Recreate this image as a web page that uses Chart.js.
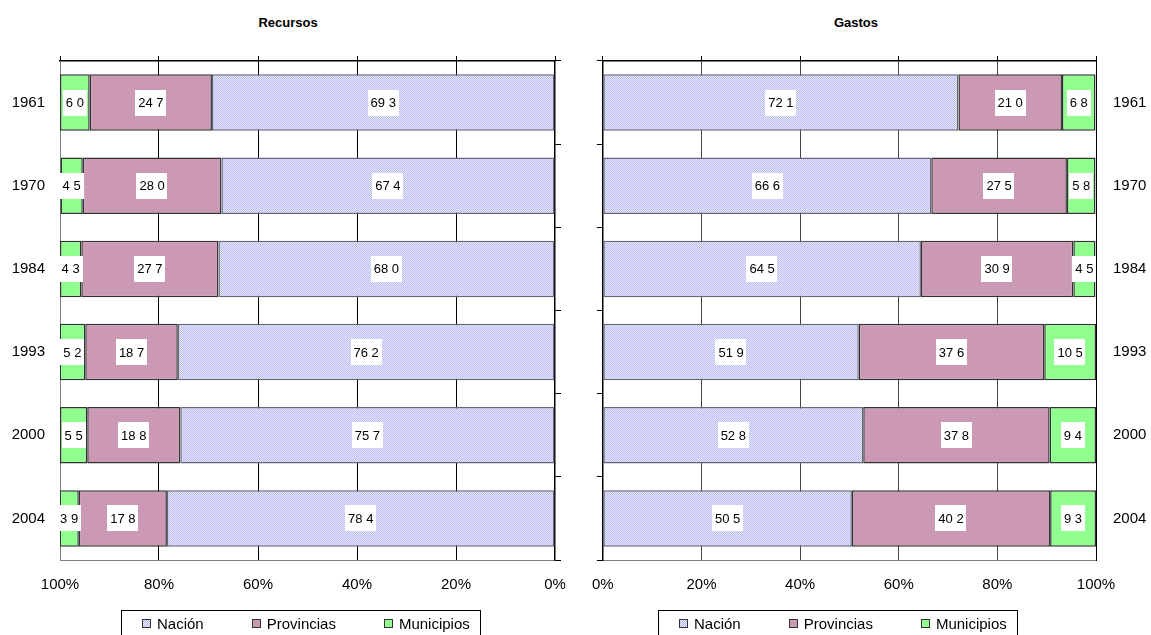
<!DOCTYPE html>
<html lang="es">
<head>
<meta charset="UTF-8">
<title>Recursos y Gastos por nivel de gobierno</title>
<script src="https://cdn.jsdelivr.net/npm/chart.js@4.4.0/dist/chart.umd.min.js"></script>
<style>
  body { margin: 0; background: #fff; width: 1151px; height: 635px; position: relative; overflow: hidden; font-family: Arial, "Liberation Sans", sans-serif; }
  canvas { position: absolute; top: 0; }
  #recursosChart { left: 0; }
  #gastosChart { left: 576px; }
  .titulo { position: absolute; top: 15px; width: 200px; text-align: center; font-weight: bold; font-size: 13px; }
  .leyenda { position: absolute; top: 610px; height: 26px; box-sizing: border-box; border: 1px solid #000; display: flex; align-items: center; font-size: 15px; padding-left: 20px; }
  .leyenda span.item { display: flex; align-items: center; margin-right: 48px; }
  .leyenda span.item:last-child { margin-right: 10px; }
  .leyenda i { width: 9px; height: 9px; box-sizing: border-box; border: 1px solid #333; margin-right: 6px; display: inline-block; }
  .c-nacion { background: repeating-conic-gradient(#bcbcf4 0 25%, #e8e8fc 0 50%) 0 0 / 2px 2px; }
  .c-prov { background: #cc99b4; }
  .c-muni { background: #90ff90; }
</style>
</head>
<body>
<div class="titulo" style="left:188px">Recursos</div>
<div class="titulo" style="left:756px">Gastos</div>
<canvas id="recursosChart" width="576" height="635"></canvas>
<canvas id="gastosChart" width="575" height="635"></canvas>
<div class="leyenda" style="left:121px">
  <span class="item"><i class="c-nacion"></i>Nación</span>
  <span class="item"><i class="c-prov"></i>Provincias</span>
  <span class="item"><i class="c-muni"></i>Municipios</span>
</div>
<div class="leyenda" style="left:658px">
  <span class="item"><i class="c-nacion"></i>Nación</span>
  <span class="item"><i class="c-prov"></i>Provincias</span>
  <span class="item"><i class="c-muni"></i>Municipios</span>
</div>
<script>
// Años y participación (%) de cada nivel de gobierno
const anios = ['1961', '1970', '1984', '1993', '2000', '2004'];
const recursosNacion = [69.3, 67.4, 68.0, 76.2, 75.7, 78.4];
const recursosProvincias = [24.7, 28.0, 27.7, 18.7, 18.8, 17.8];
const recursosMunicipios = [6.0, 4.5, 4.3, 5.2, 5.5, 3.9];
const gastosNacion = [72.1, 66.6, 64.5, 51.9, 52.8, 50.5];
const gastosProvincias = [21.0, 27.5, 30.9, 37.6, 37.8, 40.2];
const gastosMunicipios = [6.8, 5.8, 4.5, 10.5, 9.4, 9.3];
const marcasPct = [0, 20, 40, 60, 80, 100];

Chart.defaults.font.family = 'Arial, "Liberation Sans", sans-serif';
Chart.defaults.color = '#000';

// trama punteada azul para Nación
function tramaNacion() {
    const c = document.createElement('canvas');
    c.width = 2; c.height = 2;
    const g = c.getContext('2d');
    g.fillStyle = '#e8e8fc';
    g.fillRect(0, 0, 2, 2);
    g.fillStyle = '#bcbcf4';
    g.fillRect(0, 0, 1, 1);
    g.fillRect(1, 1, 1, 1);
    return g.createPattern(c, 'repeat');
}

// etiquetas con fondo blanco en el centro de cada segmento
const etiquetas = {
    id: 'etiquetas',
    afterDatasetsDraw(chart) {
        const ctx = chart.ctx;
        ctx.save();
        ctx.font = '13px Arial, "Liberation Sans", sans-serif';
        ctx.textAlign = 'center';
        ctx.textBaseline = 'middle';
        chart.data.datasets.forEach((ds, i) => {
            chart.getDatasetMeta(i).data.forEach((bar, j) => {
                const txt = ds.data[j].toFixed(1).replace('.', ' ');
                const p = bar.getCenterPoint();
                const w = ctx.measureText(txt).width + 6;
                ctx.fillStyle = '#fff';
                ctx.fillRect(Math.round(p.x - w / 2), Math.round(p.y - 13), Math.round(w), 26);
                ctx.fillStyle = '#000';
                ctx.fillText(txt, p.x, p.y + 1);
            });
        });
        ctx.restore();
    }
};

function datasets(nacion, provincias, municipios) {
    const comun = { borderWidth: 1.5, borderSkipped: false, barPercentage: 0.68, categoryPercentage: 1 };
    return [
        Object.assign({ label: 'Nación', data: nacion, backgroundColor: tramaNacion(), borderColor: '#666677' }, comun),
        Object.assign({ label: 'Provincias', data: provincias, backgroundColor: '#cc99b4', borderColor: '#333' }, comun),
        Object.assign({ label: 'Municipios', data: municipios, backgroundColor: '#90ff90', borderColor: '#333' }, comun)
    ];
}

// izquierda: eje invertido (100% a la izquierda), años a la izquierda
function opciones(invertido, colorGrilla) {
    const sinBordes = c => (c.tick && (c.tick.value === 0 || c.tick.value === 100)) ? 'rgba(0,0,0,0)' : colorGrilla;
    return {
        indexAxis: 'y',
        responsive: false,
        animation: false,
        layout: { padding: invertido ? { top: 55, bottom: 25, left: 0, right: 13 } : { top: 55, bottom: 25, left: 14, right: 0 } },
        plugins: { legend: { display: false }, title: { display: false }, tooltip: { enabled: false } },
        scales: {
            x: {
                type: 'linear', stacked: true, reverse: invertido, min: 0, max: 100, position: 'bottom',
                afterBuildTicks: s => { s.ticks = marcasPct.map(v => ({ value: v })); },
                ticks: { callback: v => v + '%', font: { size: 15 }, padding: 16, maxRotation: 0 },
                grid: { color: sinBordes, lineWidth: 1, drawTicks: false },
                border: { color: '#808080', width: 1 },
                afterFit: s => { s.height = 50; }
            },
            xArriba: {
                type: 'linear', position: 'top', min: 0, max: 100, reverse: invertido,
                afterBuildTicks: s => { s.ticks = marcasPct.map(v => ({ value: v })); },
                ticks: { display: false },
                grid: { drawOnChartArea: false, tickLength: 5, color: '#000' },
                border: { color: '#000', width: 1.5 },
                afterFit: s => { s.height = 6; }
            },
            y: {
                type: 'category', stacked: true, position: invertido ? 'left' : 'right',
                ticks: { font: { size: 15 }, padding: invertido ? 15 : 17 },
                grid: { display: false, drawTicks: false },
                border: { color: invertido ? '#808080' : '#000', width: 1 },
                afterFit: s => { s.width = invertido ? 60 : 55; }
            },
            yMarcas: {
                type: 'category', labels: anios, position: invertido ? 'right' : 'left',
                ticks: { display: false },
                grid: { drawOnChartArea: false, tickLength: 6, color: '#000', offset: true },
                border: { color: '#000', width: 1.5 },
                afterFit: s => { s.width = 8; }
            }
        }
    };
}

new Chart(document.getElementById('recursosChart'), {
    type: 'bar',
    data: { labels: anios, datasets: datasets(recursosNacion, recursosProvincias, recursosMunicipios) },
    options: opciones(true, '#000'),
    plugins: [etiquetas]
});

new Chart(document.getElementById('gastosChart'), {
    type: 'bar',
    data: { labels: anios, datasets: datasets(gastosNacion, gastosProvincias, gastosMunicipios) },
    options: opciones(false, '#444'),
    plugins: [etiquetas]
});
</script>
</body>
</html>
